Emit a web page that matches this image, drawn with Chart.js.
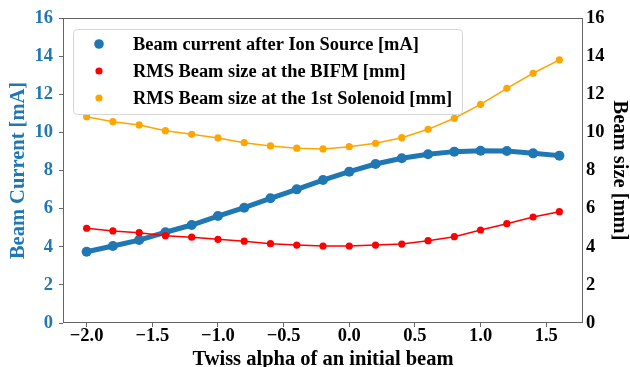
<!DOCTYPE html>
<html>
<head>
<meta charset="utf-8">
<script src="https://cdn.jsdelivr.net/npm/chart.js@4/dist/chart.umd.min.js"></script>
<style>
  html, body { margin: 0; padding: 0; background: #ffffff; }
  #wrap { width: 630px; height: 367px; position: relative; }
</style>
</head>
<body>
<div id="wrap"><canvas id="c" width="630" height="367"></canvas></div>
<script>
// ---- data ----
const alpha = [-2.0, -1.8, -1.6, -1.4, -1.2, -1.0, -0.8, -0.6, -0.4, -0.2, 0.0, 0.2, 0.4, 0.6, 0.8, 1.0, 1.2, 1.4, 1.6];
const beamCurrent = [3.74, 4.04, 4.35, 4.76, 5.14, 5.61, 6.05, 6.54, 7.01, 7.50, 7.94, 8.34, 8.64, 8.85, 8.99, 9.04, 9.02, 8.90, 8.78];
const bifmSize = [4.97, 4.83, 4.74, 4.58, 4.50, 4.39, 4.29, 4.16, 4.09, 4.04, 4.04, 4.09, 4.14, 4.32, 4.53, 4.88, 5.21, 5.56, 5.84];
const solenoidSize = [10.82, 10.56, 10.39, 10.09, 9.90, 9.71, 9.46, 9.29, 9.17, 9.13, 9.25, 9.43, 9.72, 10.16, 10.74, 11.47, 12.31, 13.10, 13.80];
const seriesLabels = ['Beam current after Ion Source [mA]', 'RMS Beam size at the BIFM [mm]', 'RMS Beam size at the 1st Solenoid [mm]'];
const xTitle = 'Twiss alpha of an initial beam';
const yLeftTitle = 'Beam Current [mA]';
const yRightTitle = 'Beam size [mm]';

const pts = (ys) => alpha.map((a, i) => ({ x: a, y: ys[i] }));
const SERIF = "'Liberation Serif', 'Times New Roman', serif";
const BLUE = '#1f77b4';
const AXIS = '#666666';
const fmtMinus = (v) => (v < 0 ? '\u2212' : '') + Math.abs(v).toFixed(1);

const frameLegend = {
  id: 'frameLegend',
  afterDatasetsDraw(chart) {
    const { ctx, chartArea: a } = chart;
    ctx.save();
    // frame
    ctx.strokeStyle = AXIS;
    ctx.lineWidth = 1;
    ctx.strokeRect(Math.round(a.left) + 0.5, Math.round(a.top) + 0.5,
                   Math.round(a.right - a.left) - 1, Math.round(a.bottom - a.top) - 1);
    // legend box
    const bx = 73.5, by = 29.5, bw = 389, bh = 85, r = 4;
    ctx.beginPath();
    ctx.moveTo(bx + r, by);
    ctx.lineTo(bx + bw - r, by);
    ctx.arcTo(bx + bw, by, bx + bw, by + r, r);
    ctx.lineTo(bx + bw, by + bh - r);
    ctx.arcTo(bx + bw, by + bh, bx + bw - r, by + bh, r);
    ctx.lineTo(bx + r, by + bh);
    ctx.arcTo(bx, by + bh, bx, by + bh - r, r);
    ctx.lineTo(bx, by + r);
    ctx.arcTo(bx, by, bx + r, by, r);
    ctx.closePath();
    ctx.fillStyle = 'rgba(255,255,255,0.85)';
    ctx.fill();
    ctx.strokeStyle = '#d6d6d6';
    ctx.stroke();
    const rows = [44, 71, 98];
    const radii = [4.8, 3.6, 3.6];
    chart.data.datasets.forEach((ds, i) => {
      ctx.beginPath();
      ctx.arc(99, rows[i], radii[i], 0, Math.PI * 2);
      ctx.fillStyle = ds.pointBackgroundColor;
      ctx.fill();
      ctx.fillStyle = '#000';
      ctx.font = 'bold 18.4px ' + SERIF;
      ctx.textAlign = 'left';
      ctx.textBaseline = 'middle';
      ctx.fillText(ds.label, 133, rows[i] + 1);
    });
    ctx.restore();
  }
};

new Chart(document.getElementById('c'), {
  type: 'line',
  data: {
    datasets: [
      {
        label: seriesLabels[0], data: pts(beamCurrent), yAxisID: 'y',
        borderColor: BLUE, backgroundColor: BLUE, pointBackgroundColor: BLUE, pointBorderColor: BLUE,
        borderWidth: 5, pointRadius: 5, pointBorderWidth: 0, tension: 0, order: 3
      },
      {
        label: seriesLabels[1], data: pts(bifmSize), yAxisID: 'y2',
        borderColor: '#ff0000', backgroundColor: '#ff0000', pointBackgroundColor: '#ff0000', pointBorderColor: '#ff0000',
        borderWidth: 1.5, pointRadius: 3.6, pointBorderWidth: 0, tension: 0, order: 1
      },
      {
        label: seriesLabels[2], data: pts(solenoidSize), yAxisID: 'y2',
        borderColor: '#ffa500', backgroundColor: '#ffa500', pointBackgroundColor: '#ffa500', pointBorderColor: '#ffa500',
        borderWidth: 1.5, pointRadius: 3.6, pointBorderWidth: 0, tension: 0, order: 2
      }
    ]
  },
  options: {
    responsive: false,
    animation: false,
    devicePixelRatio: 1,
    layout: { padding: { top: 18, left: 0, right: 0, bottom: 0 } },
    plugins: { legend: { display: false }, tooltip: { enabled: false } },
    scales: {
      x: {
        type: 'linear', position: 'bottom', min: -2.18, max: 1.78,
        afterFit(s) { s.height = 44; },
        border: { display: false },
        grid: { display: true, drawOnChartArea: false, drawTicks: true, tickLength: 4, color: AXIS },
        ticks: { stepSize: 0.5, includeBounds: false, padding: -2, color: '#000',
                 font: { family: SERIF, size: 18.5, weight: 'bold' }, maxRotation: 0,
                 callback: (v) => fmtMinus(v) },
        title: { display: true, text: xTitle, color: '#000', padding: { top: 0, bottom: 0 },
                 font: { family: SERIF, size: 20.5, weight: 'bold', lineHeight: 0.75 } }
      },
      y: {
        type: 'linear', position: 'left', min: 0, max: 16,
        afterFit(s) { s.width = 63; },
        border: { display: false },
        grid: { display: true, drawOnChartArea: false, drawTicks: true, tickLength: 4, color: AXIS },
        ticks: { stepSize: 2, padding: 6, color: BLUE, font: { family: SERIF, size: 18.5, weight: 'bold' } },
        title: { display: true, text: yLeftTitle, color: BLUE, padding: { top: 8, bottom: 0 },
                 font: { family: SERIF, size: 20.5, weight: 'bold', lineHeight: 1 } }
      },
      y2: {
        type: 'linear', position: 'right', min: 0, max: 16,
        afterFit(s) { s.width = 47; },
        border: { display: false },
        grid: { display: false, drawOnChartArea: false, drawTicks: false },
        ticks: { stepSize: 2, padding: 3, color: '#000', font: { family: SERIF, size: 18.5, weight: 'bold' } },
        title: { display: true, text: yRightTitle, color: '#000', padding: { top: 0, bottom: 0 },
                 font: { family: SERIF, size: 20.5, weight: 'bold', lineHeight: 1 } }
      }
    }
  },
  plugins: [frameLegend]
});
</script>
</body>
</html>
